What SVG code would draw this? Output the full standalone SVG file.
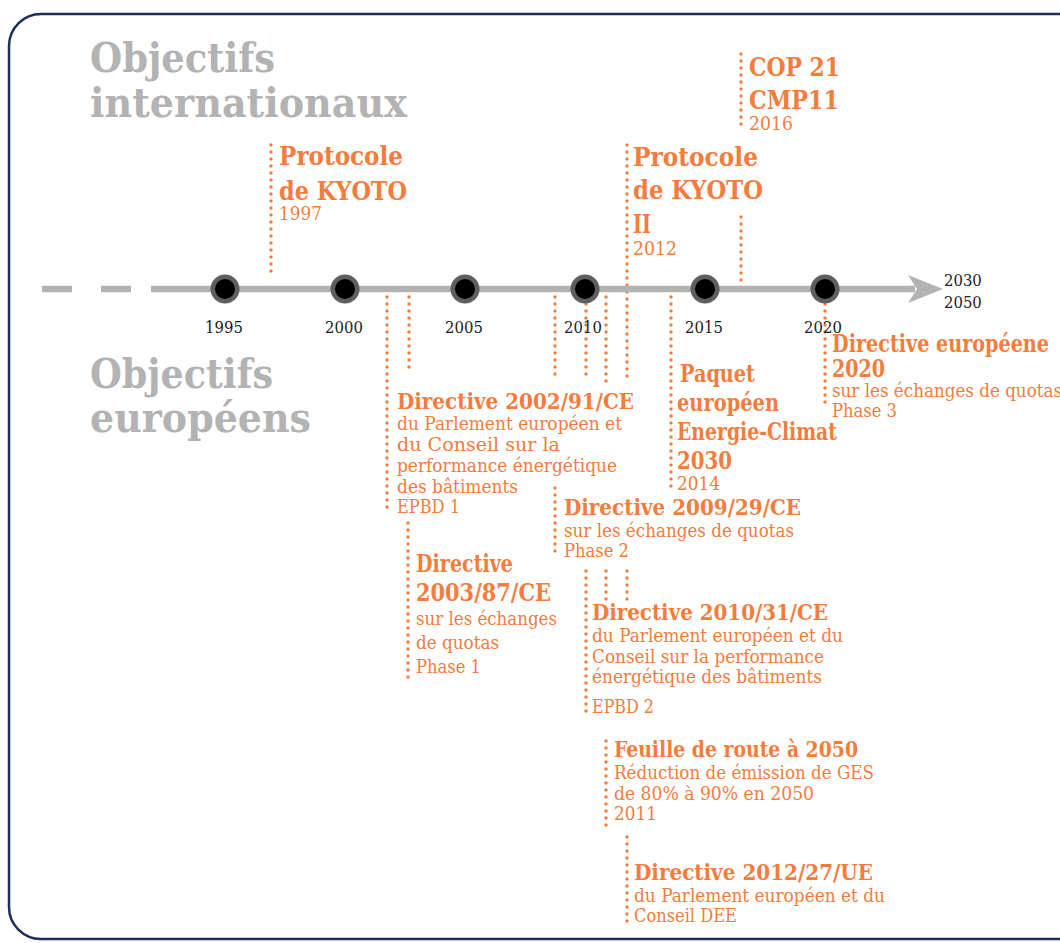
<svg xmlns="http://www.w3.org/2000/svg" width="1060" height="943" viewBox="0 0 1060 943">
<style>
.t{font-family:'DejaVu Serif Condensed','DejaVu Serif',serif;font-stretch:condensed;font-weight:bold;font-size:41px;fill:#b3b3b3}
.bl{font-family:'DejaVu Serif Condensed','DejaVu Serif',serif;font-stretch:condensed;font-weight:bold;font-size:25.5px;fill:#f47c3c}
.bm{font-family:'DejaVu Serif Condensed','DejaVu Serif',serif;font-stretch:condensed;font-weight:bold;font-size:24px;fill:#f47c3c}
.bs{font-family:'DejaVu Serif Condensed','DejaVu Serif',serif;font-stretch:condensed;font-weight:bold;font-size:22px;fill:#f47c3c}
.r{font-family:'DejaVu Serif Condensed','DejaVu Serif',serif;font-stretch:condensed;font-size:18.5px;fill:#f47c3c}
.y{font-family:'DejaVu Serif Condensed','DejaVu Serif',serif;font-stretch:condensed;font-size:16.5px;fill:#222;text-anchor:middle}
.y2{font-family:'DejaVu Serif Condensed','DejaVu Serif',serif;font-stretch:condensed;font-size:16.5px;fill:#222}
.d{stroke:#f47c3c;stroke-width:3.4;stroke-linecap:round;stroke-dasharray:0 7;fill:none}
.ax{stroke:#b3b3b3;stroke-width:6.5;fill:none}
.co{fill:#5f5f5f}
.ci{fill:#000}
</style>
<rect id="frame" x="9" y="14" width="1100" height="925" rx="32" ry="32" fill="#fff" stroke="#1f2c5c" stroke-width="2.5"/>

<g id="titles">
<text class="t" x="90" y="72" textLength="185" lengthAdjust="spacingAndGlyphs">Objectifs</text>
<text class="t" x="90" y="117" textLength="317" lengthAdjust="spacingAndGlyphs">internationaux</text>
<text class="t" x="90" y="388" textLength="183" lengthAdjust="spacingAndGlyphs">Objectifs</text>
<text class="t" x="90" y="432" textLength="221" lengthAdjust="spacingAndGlyphs">européens</text>
</g>

<g id="connectors">
<line class="d" x1="271" y1="145" x2="271" y2="277"/>
<line class="d" x1="741" y1="54" x2="741" y2="128"/>
<line class="d" x1="741" y1="217" x2="741" y2="283"/>
<line class="d" x1="627" y1="145" x2="627" y2="383"/>
<line class="d" x1="387" y1="297" x2="387" y2="512"/>
<line class="d" x1="409" y1="297" x2="409" y2="371"/>
<line class="d" x1="408" y1="523" x2="408" y2="678"/>
<line class="d" x1="555" y1="297" x2="555" y2="381"/>
<line class="d" x1="586" y1="297" x2="586" y2="381"/>
<line class="d" x1="606" y1="297" x2="606" y2="382"/>
<line class="d" x1="555" y1="488" x2="555" y2="556"/>
<line class="d" x1="586" y1="571" x2="586" y2="716"/>
<line class="d" x1="606" y1="571" x2="606" y2="600"/>
<line class="d" x1="627" y1="571" x2="627" y2="600"/>
<line class="d" x1="671" y1="297" x2="671" y2="489"/>
<line class="d" x1="825" y1="297" x2="825" y2="408"/>
<line class="d" x1="606" y1="741" x2="606" y2="828"/>
<line class="d" x1="627" y1="837" x2="627" y2="928"/>
</g>

<g id="axis">
<line class="ax" x1="42" y1="289" x2="72" y2="289"/>
<line class="ax" x1="101" y1="289" x2="131" y2="289"/>
<line class="ax" x1="151" y1="289" x2="915" y2="289"/>
<polygon points="943,289 908,275 917,289 908,303" fill="#b3b3b3"/>
<circle class="co" cx="225" cy="289" r="14.5"/><circle class="ci" cx="225" cy="289" r="10"/>
<circle class="co" cx="345" cy="289" r="14.5"/><circle class="ci" cx="345" cy="289" r="10"/>
<circle class="co" cx="465" cy="289" r="14.5"/><circle class="ci" cx="465" cy="289" r="10"/>
<circle class="co" cx="585" cy="289" r="14.5"/><circle class="ci" cx="585" cy="289" r="10"/>
<circle class="co" cx="705" cy="289" r="14.5"/><circle class="ci" cx="705" cy="289" r="10"/>
<circle class="co" cx="825" cy="289" r="14.5"/><circle class="ci" cx="825" cy="289" r="10"/>
<text class="y" x="224" y="333">1995</text>
<text class="y" x="344" y="333">2000</text>
<text class="y" x="464" y="333">2005</text>
<text class="y" x="583" y="333">2010</text>
<text class="y" x="704" y="333">2015</text>
<text class="y" x="823" y="333">2020</text>
<text class="y2" x="944" y="286">2030</text>
<text class="y2" x="944" y="308">2050</text>
</g>

<g id="kyoto1997">
<text class="bl" x="279" y="165" textLength="124" lengthAdjust="spacingAndGlyphs">Protocole</text>
<text class="bl" x="279" y="200" textLength="128" lengthAdjust="spacingAndGlyphs">de KYOTO</text>
<text class="r" x="279" y="220" textLength="43" lengthAdjust="spacingAndGlyphs">1997</text>
</g>

<g id="cop21">
<text class="bl" x="749" y="76" textLength="91" lengthAdjust="spacingAndGlyphs">COP 21</text>
<text class="bl" x="749" y="109" textLength="90" lengthAdjust="spacingAndGlyphs">CMP11</text>
<text class="r" x="749" y="130" textLength="44" lengthAdjust="spacingAndGlyphs">2016</text>
</g>

<g id="kyoto2">
<text class="bl" x="633" y="166" textLength="125" lengthAdjust="spacingAndGlyphs">Protocole</text>
<text class="bl" x="633" y="199" textLength="130" lengthAdjust="spacingAndGlyphs">de KYOTO</text>
<text class="bl" x="633" y="233" textLength="18" lengthAdjust="spacingAndGlyphs">II</text>
<text class="r" x="633" y="255" textLength="44" lengthAdjust="spacingAndGlyphs">2012</text>
</g>

<g id="dir2002">
<text class="bs" x="397" y="409" textLength="237" lengthAdjust="spacingAndGlyphs">Directive 2002/91/CE</text>
<text class="r" x="397" y="430" textLength="225" lengthAdjust="spacingAndGlyphs">du Parlement européen et</text>
<text class="r" x="397" y="451" textLength="163" lengthAdjust="spacingAndGlyphs">du Conseil sur la</text>
<text class="r" x="397" y="472" textLength="220" lengthAdjust="spacingAndGlyphs">performance énergétique</text>
<text class="r" x="397" y="493" textLength="121" lengthAdjust="spacingAndGlyphs">des bâtiments</text>
<text class="r" x="397" y="513" textLength="63" lengthAdjust="spacingAndGlyphs">EPBD 1</text>
</g>

<g id="dir2003">
<text class="bm" x="416" y="572" textLength="97" lengthAdjust="spacingAndGlyphs">Directive</text>
<text class="bm" x="416" y="601" textLength="135" lengthAdjust="spacingAndGlyphs">2003/87/CE</text>
<text class="r" x="416" y="625" textLength="141" lengthAdjust="spacingAndGlyphs">sur les échanges</text>
<text class="r" x="416" y="649" textLength="83" lengthAdjust="spacingAndGlyphs">de quotas</text>
<text class="r" x="416" y="673" textLength="65" lengthAdjust="spacingAndGlyphs">Phase 1</text>
</g>

<g id="dir2009">
<text class="bs" x="564" y="515" textLength="237" lengthAdjust="spacingAndGlyphs">Directive 2009/29/CE</text>
<text class="r" x="564" y="537" textLength="230" lengthAdjust="spacingAndGlyphs">sur les échanges de quotas</text>
<text class="r" x="564" y="557" textLength="65" lengthAdjust="spacingAndGlyphs">Phase 2</text>
</g>

<g id="paquet2030">
<text class="bm" x="680" y="382" textLength="75" lengthAdjust="spacingAndGlyphs">Paquet</text>
<text class="bm" x="677" y="411" textLength="102" lengthAdjust="spacingAndGlyphs">européen</text>
<text class="bm" x="677" y="440" textLength="160" lengthAdjust="spacingAndGlyphs">Energie-Climat</text>
<text class="bm" x="677" y="469" textLength="55" lengthAdjust="spacingAndGlyphs">2030</text>
<text class="r" x="677" y="490" textLength="43" lengthAdjust="spacingAndGlyphs">2014</text>
</g>

<g id="dir2020">
<text class="bm" x="832" y="352" textLength="217" lengthAdjust="spacingAndGlyphs">Directive européene</text>
<text class="bm" x="832" y="377" textLength="53" lengthAdjust="spacingAndGlyphs">2020</text>
<text class="r" x="832" y="397" textLength="230" lengthAdjust="spacingAndGlyphs">sur les échanges de quotas</text>
<text class="r" x="832" y="417" textLength="65" lengthAdjust="spacingAndGlyphs">Phase 3</text>
</g>

<g id="dir2010">
<text class="bs" x="592" y="620" textLength="236" lengthAdjust="spacingAndGlyphs">Directive 2010/31/CE</text>
<text class="r" x="592" y="642" textLength="251" lengthAdjust="spacingAndGlyphs">du Parlement européen et du</text>
<text class="r" x="592" y="663" textLength="232" lengthAdjust="spacingAndGlyphs">Conseil sur la performance</text>
<text class="r" x="592" y="683" textLength="230" lengthAdjust="spacingAndGlyphs">énergétique des bâtiments</text>
<text class="r" x="592" y="713" textLength="62" lengthAdjust="spacingAndGlyphs">EPBD 2</text>
</g>

<g id="feuille2050">
<text class="bs" x="614" y="757" textLength="244" lengthAdjust="spacingAndGlyphs">Feuille de route à 2050</text>
<text class="r" x="614" y="779" textLength="260" lengthAdjust="spacingAndGlyphs">Réduction de émission de GES</text>
<text class="r" x="614" y="800" textLength="200" lengthAdjust="spacingAndGlyphs">de 80% à 90% en 2050</text>
<text class="r" x="614" y="820" textLength="43" lengthAdjust="spacingAndGlyphs">2011</text>
</g>

<g id="dir2012">
<text class="bs" x="634" y="880" textLength="239" lengthAdjust="spacingAndGlyphs">Directive 2012/27/UE</text>
<text class="r" x="634" y="902" textLength="251" lengthAdjust="spacingAndGlyphs">du Parlement européen et du</text>
<text class="r" x="634" y="922" textLength="103" lengthAdjust="spacingAndGlyphs">Conseil DEE</text>
</g>
</svg>
